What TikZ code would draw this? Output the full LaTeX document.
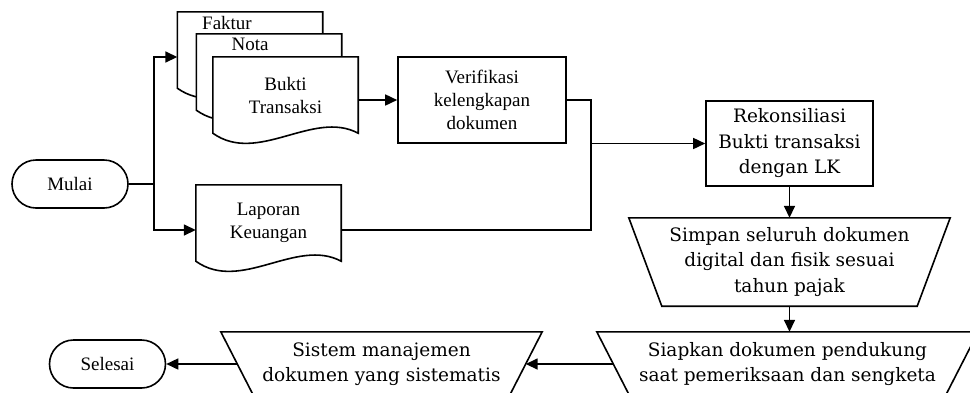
\documentclass[tikz,border=0pt]{standalone}
\usepackage{fontspec}
\setmainfont{Liberation Serif}
\newfontfamily\cambriafont{DejaVu Serif}
\usepackage{tikz}
\usetikzlibrary{arrows.meta,positioning,calc,backgrounds}

\begin{document}
\begin{tikzpicture}[x=1pt,y=-1pt,
      font_times/.style={
         font=\fontsize{19}{23}\selectfont},
      font_camb/.style={
         font=\cambriafont\fontsize{18.5}{25.5}\selectfont},
      term_node/.style={
         rectangle,
         rounded corners=24pt,
         draw=black,
         line width=1.6pt,
         inner sep=0pt,
         minimum width=116pt,
         minimum height=48pt,
         font_times},
      doc_node/.style={
         rectangle,
         inner sep=0pt,
         minimum width=145pt,
         minimum height=76pt,
         align=center,
         font_times},
      doc_label/.style={
         anchor=north,
         inner sep=4.5pt,
         font_times},
      proc_node/.style={
         rectangle,
         draw=black,
         line width=1.6pt,
         inner sep=0pt,
         minimum width=168pt,
         minimum height=86pt,
         align=center,
         font_times},
      trap_node/.style={
         rectangle,
         inner sep=0pt,
         minimum height=64pt,
         align=center,
         font_camb},
      line_black/.style={
         line width=1.6pt},
      doc_line/.style={
         draw=black,
         fill=white,
         line width=1.6pt},
      arrow_black/.style={
         -{Triangle[length=12pt,width=11pt]},
         line width=1.6pt}
]
      \useasboundingbox (0,0) rectangle (970,392);

      %start and end
      \node[term_node] (mulai) at (70,184) {Mulai};
      \node[term_node] (selesai) at (107.5,364) {Selesai};

      %documents
      \node[doc_node,label={[doc_label,xshift=-23pt]north:Faktur}] (faktur) at (250,50) {};
      \node[doc_node,label={[doc_label,xshift=-19pt]north:Nota}] (nota) at ($(faktur)+(19,22)$) {};
      \node[doc_node] (bukti) at ($(nota)+(16.5,23)$) {Bukti\\Transaksi};
      \node[doc_node] (lapkeu) at (268.5,223) {Laporan\\Keuangan};

      %process
      \node[proc_node] (verif) at (482,100) {Verifikasi\\kelengkapan\\dokumen};
      \node[proc_node,minimum width=167pt,minimum height=85pt,font_camb] (rek) at (789.5,143.5) {Rekonsiliasi\\Bukti transaksi\\dengan LK};

      %storage
      \node[trap_node,minimum width=321pt,minimum height=88pt] (simpan) at (789.5,262) {Simpan seluruh dokumen\\digital dan fisik sesuai\\tahun pajak};
      \node[trap_node,minimum width=381pt] (siapkan) at (787.5,364) {Siapkan dokumen pendukung\\saat pemeriksaan dan sengketa};
      \node[trap_node,minimum width=321pt] (sistem) at (381.5,364) {Sistem manajemen\\dokumen yang sistematis};

      \foreach \n/\k in {simpan/33,siapkan/33,sistem/33}
      \draw[line_black] (\n.north west) -- (\n.north east) -- ([xshift=-\k pt]\n.south east)
         -- ([xshift=\k pt]\n.south west) -- cycle;

      \begin{scope}[on background layer]
      \foreach \d in {faktur,nota,bukti,lapkeu}
      \draw[doc_line] (\d.north west) -- (\d.north east) -- (\d.south east)
         .. controls +(-45,-24) and +(45,32) .. (\d.south west) -- cycle;
      \end{scope}

      %connectors
      \coordinate (split) at ($(mulai.east)+(25,0)$);
      \draw[line_black] (mulai.east) -- (split);
      \foreach \d in {faktur,lapkeu}
      \draw[arrow_black] (split) |- ([yshift=-7pt]\d.west);

      \draw[arrow_black] (verif.west -| bukti.east) -- (verif.west);
      \coordinate (merge) at ($(rek.west)+(-114,0)$);
      \draw[line_black] (verif.east) -| (merge);
      \draw[line_black] ([yshift=-7pt]lapkeu.east) -| (merge);
      \draw[arrow_black] (merge) -- (rek.west);

      \draw[arrow_black] (rek.south) -- (simpan.north);
      \draw[arrow_black] (simpan.south) -- (simpan.south |- siapkan.north);
      \draw[arrow_black] ([xshift=16.5pt]siapkan.west) -- ([xshift=-16.5pt]sistem.east);
      \draw[arrow_black] ([xshift=16.5pt]sistem.west) -- (selesai.east);

\end{tikzpicture}
\end{document}
